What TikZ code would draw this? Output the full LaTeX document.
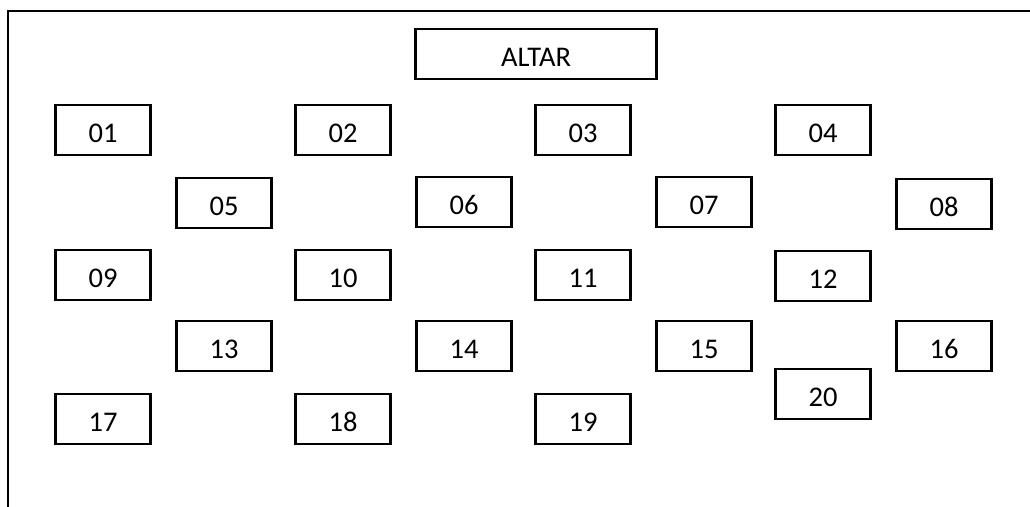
\documentclass[tikz,border=0pt]{standalone}
\usepackage{fontspec}
\setmainfont{Carlito}
\usepackage{tikz}
\usetikzlibrary{positioning}
\tikzset{
  x=1pt, y=-1pt,
  seat/.style={draw, line width=2.4pt, minimum width=95pt, minimum height=50pt,
    inner sep=0pt, text height=24pt, text depth=-10pt,
    font=\fontsize{28.5}{30}\selectfont},
  altar/.style={seat, minimum width=241pt},
}

\begin{document}
\begin{tikzpicture}
	\useasboundingbox (0,0) rectangle (1030,506);
	% hall
	\draw[line width=2.4pt] (1031,11) -| (8,507);

	% altar
	\node[altar] (altar) at (536,54) {ALTAR};

	% seats
	\node[seat] (s01) at (103,130) {01};
	\node[seat] (s02) at (343,130) {02};
	\node[seat] (s03) at (583,130) {03};
	\node[seat] (s04) at (823,130) {04};
	\node[seat] (s05) at (224,203) {05};
	\node[seat] (s06) at (464,202) {06};
	\node[seat] (s07) at (704,202) {07};
	\node[seat] (s08) at (944,204) {08};
	\node[seat] (s09) at (103,275) {09};
	\node[seat] (s10) at (343,275) {10};
	\node[seat] (s11) at (583,275) {11};
	\node[seat] (s12) at (823,276) {12};
	\node[seat] (s13) at (224,346) {13};
	\node[seat] (s14) at (464,346) {14};
	\node[seat] (s15) at (704,346) {15};
	\node[seat] (s16) at (944,346) {16};
	\node[seat] (s17) at (103,419) {17};
	\node[seat] (s18) at (343,419) {18};
	\node[seat] (s19) at (583,419) {19};
	\node[seat] (s20) at (823,394) {20};
\end{tikzpicture}
\end{document}
